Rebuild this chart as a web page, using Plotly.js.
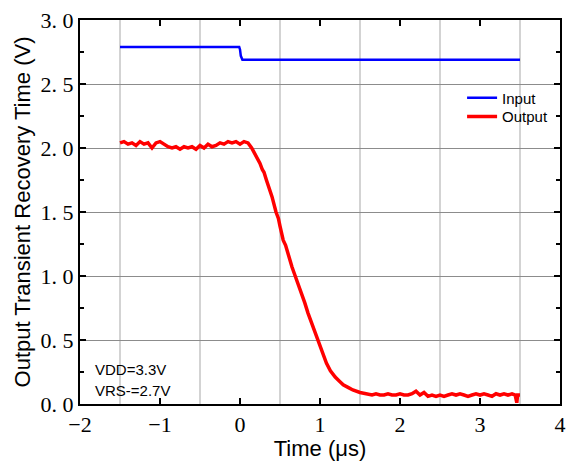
<!DOCTYPE html>
<html>
<head>
<meta charset="utf-8">
<script src="https://cdn.plot.ly/plotly-3.0.1.min.js"></script>
<style>html,body{margin:0;padding:0;background:#fff;}#chart{width:574px;height:461px;}</style>
</head>
<body>
<div id="chart"></div>
<script>
// Input trace (time in µs, voltage in V)
const inputTime = [-1.5, -1.2, -0.9, -0.6, -0.3, -0.05, -0.01, 0.0, 0.01, 0.03, 0.3, 0.6, 1.0, 1.5, 2.0, 2.5, 3.0, 3.5];
const inputVolt = [2.79, 2.79, 2.79, 2.79, 2.79, 2.79, 2.79, 2.77, 2.72, 2.69, 2.69, 2.69, 2.69, 2.69, 2.69, 2.69, 2.69, 2.69];

// Output trace
const outputTime = [-1.50, -1.45, -1.40, -1.35, -1.30, -1.25, -1.20, -1.15, -1.10, -1.05, -1.00, -0.95, -0.90, -0.85, -0.80, -0.75, -0.70, -0.65, -0.60, -0.55, -0.50, -0.45, -0.40, -0.35, -0.30, -0.25, -0.20, -0.15, -0.10, -0.05, 0.00, 0.05, 0.10,
  0.146, 0.20, 0.25, 0.28, 0.30, 0.33, 0.37, 0.40, 0.45, 0.48, 0.50, 0.54, 0.57, 0.60, 0.65, 0.69, 0.72, 0.75, 0.81, 0.85, 0.89, 0.93, 0.97, 1.02, 1.08, 1.13, 1.19, 1.24, 1.29, 1.35, 1.41, 1.50, 1.58,
  1.65, 1.70, 1.75, 1.80, 1.85, 1.90, 1.95, 2.00, 2.05, 2.10, 2.15, 2.20, 2.25, 2.30, 2.35, 2.40, 2.45, 2.50, 2.55, 2.60, 2.65, 2.70, 2.75, 2.80, 2.85, 2.90, 2.95, 3.00, 3.05, 3.10, 3.15, 3.20, 3.25, 3.30, 3.35, 3.40, 3.44, 3.46, 3.47, 3.50];
const outputVolt = [2.04, 2.05, 2.03, 2.04, 2.02, 2.05, 2.03, 2.04, 2.00, 2.04, 2.05, 2.03, 2.01, 2.00, 2.01, 1.99, 2.01, 2.00, 2.01, 1.99, 2.02, 2.00, 2.03, 2.01, 2.02, 2.04, 2.03, 2.05, 2.04, 2.05, 2.03, 2.05, 2.04,
  2.00, 1.94, 1.88, 1.83, 1.81, 1.75, 1.68, 1.62, 1.50, 1.45, 1.39, 1.28, 1.24, 1.17, 1.07, 1.00, 0.95, 0.89, 0.79, 0.71, 0.64, 0.57, 0.50, 0.41, 0.32, 0.26, 0.21, 0.18, 0.15, 0.13, 0.11, 0.09, 0.08,
  0.07, 0.08, 0.07, 0.07, 0.08, 0.07, 0.07, 0.08, 0.07, 0.07, 0.08, 0.10, 0.07, 0.09, 0.06, 0.07, 0.06, 0.07, 0.06, 0.07, 0.08, 0.07, 0.08, 0.07, 0.06, 0.07, 0.08, 0.07, 0.08, 0.07, 0.06, 0.08, 0.07, 0.08, 0.07, 0.08, 0.07, 0.01, 0.07, 0.07];

const yTickVals = [0, 0.5, 1.0, 1.5, 2.0, 2.5, 3.0];
const yTickText = ["0. 0", "0. 5", "1. 0", "1. 5", "2. 0", "2. 5", "3. 0"];
const xTickVals = [-2, -1, 0, 1, 2, 3, 4];
const xTickText = ["\u22122", "\u22121", "0", "1", "2", "3", "4"];
const xGridVals = [-1.5, -0.5, 0.5, 1.5, 2.5, 3.5];

const serif = "Liberation Serif, Times New Roman, serif";
const sans = "Liberation Sans, Arial, sans-serif";

const traces = [
  {x: inputTime, y: inputVolt, name: "Input", mode: "lines", legend: "legend", line: {color: "#0000ff", width: 2.5}},
  {x: outputTime, y: outputVolt, name: "Output", mode: "lines", legend: "legend2", line: {color: "#ff0000", width: 3.5}}
];

const legFont = {family: sans, size: 15, color: "#000"};
const layout = {
  width: 574, height: 461,
  margin: {l: 80, r: 14, t: 20, b: 57},
  paper_bgcolor: "#fff", plot_bgcolor: "#fff",
  showlegend: true,
  legend: {x: 0.796, y: 0.840, xanchor: "left", yanchor: "top", bgcolor: "rgba(0,0,0,0)", font: legFont},
  legend2: {x: 0.796, y: 0.791, xanchor: "left", yanchor: "top", bgcolor: "rgba(0,0,0,0)", font: legFont},
  xaxis: {
    range: [-2, 4], tickvals: xTickVals, ticktext: xTickText,
    ticks: "inside", ticklen: 6, tickwidth: 1.5, tickcolor: "#000",
    showline: true, linecolor: "#000", linewidth: 2, mirror: "ticks",
    showgrid: false, zeroline: false,
    minor: {tickmode: "array", tickvals: xGridVals, showgrid: true, gridcolor: "#d3d3d3", gridwidth: 1.5, ticks: ""},
    tickfont: {family: serif, size: 22, color: "#000"},
    title: {text: "Time (\u03bcs)", font: {family: sans, size: 22, color: "#000"}, standoff: 8}
  },
  yaxis: {
    range: [0, 3.0], tickvals: yTickVals, ticktext: yTickText,
    ticks: "inside", ticklen: 6, tickwidth: 1.5, tickcolor: "#000",
    showline: true, linecolor: "#000", linewidth: 2, mirror: "ticks",
    showgrid: true, gridcolor: "#8c8c8c", gridwidth: 1, zeroline: false,
    minor: {dtick: 0.25, tick0: 0, ticks: "inside", ticklen: 4, tickcolor: "#000", showgrid: false},
    tickfont: {family: serif, size: 22, color: "#000"},
    title: {text: "Output Transient Recovery Time (V)", font: {family: sans, size: 22, color: "#000"}, standoff: 4}
  },
  annotations: [
    {xref: "paper", yref: "paper", x: 0.027, y: 0.091, xanchor: "left", yanchor: "middle", showarrow: false, text: "VDD=3.3V", font: {family: sans, size: 15, color: "#000"}},
    {xref: "paper", yref: "paper", x: 0.027, y: 0.034, xanchor: "left", yanchor: "middle", showarrow: false, text: "VRS-=2.7V", font: {family: sans, size: 15, color: "#000"}}
  ]
};

Plotly.newPlot("chart", traces, layout, {staticPlot: true, displayModeBar: false});
</script>
</body>
</html>
